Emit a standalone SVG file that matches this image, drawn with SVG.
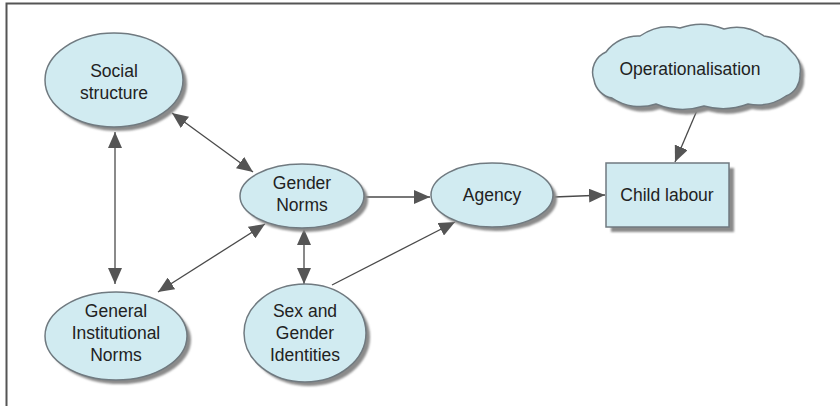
<svg xmlns="http://www.w3.org/2000/svg" width="840" height="406" viewBox="0 0 840 406">
<defs>
<style>
.node{fill:#d1ebf1;stroke:#707a80;stroke-width:1.5}
.shadow{fill:#8a8a8a;filter:url(#soft)}
.lbl{font-family:"Liberation Sans",Arial,sans-serif;font-size:17.5px;fill:#222;text-anchor:middle}
.edge{stroke:#4a4a4a;stroke-width:1.3;fill:none}
.edge2{stroke:#8a8a8a;stroke-width:2;fill:none}
</style>
<filter id="soft" x="-10%" y="-10%" width="120%" height="120%">
<feGaussianBlur stdDeviation="1"/>
</filter>
<marker id="ah" viewBox="0 0 16 14" refX="16" refY="7" markerWidth="16" markerHeight="14" markerUnits="userSpaceOnUse" orient="auto-start-reverse">
<path d="M0,0 L16,7 L0,14 z" fill="#555"/>
</marker>
<path id="cloud" d="M594,80 A22,22 0 0 1 606,52 A40,40 0 0 1 640,36 A50,50 0 0 1 680,28 A60,60 0 0 1 724,29 A50,50 0 0 1 764,36 A40,40 0 0 1 792,52 A24,24 0 0 1 800,74 A22,22 0 0 1 786,96 A50,50 0 0 1 748,104 A70,70 0 0 1 704,106 A70,70 0 0 1 656,104 A50,50 0 0 1 612,98 A22,22 0 0 1 594,80 Z"/>
</defs>
<rect x="0" y="0" width="840" height="406" fill="#fff"/>
<path d="M6.5,406 L6.5,3.5 L840,3.5" fill="none" stroke="#555" stroke-width="2"/>

<g id="connectors">
<line class="edge2" x1="115" y1="132" x2="115" y2="284" marker-start="url(#ah)" marker-end="url(#ah)"/>
<line class="edge" x1="172" y1="113" x2="253" y2="172" marker-start="url(#ah)" marker-end="url(#ah)"/>
<line class="edge" x1="265" y1="224" x2="158" y2="292" marker-start="url(#ah)" marker-end="url(#ah)"/>
<line class="edge" x1="304" y1="229" x2="304" y2="284" marker-start="url(#ah)" marker-end="url(#ah)"/>
<line class="edge" x1="365" y1="197" x2="430" y2="197" marker-end="url(#ah)"/>
<line class="edge" x1="332" y1="285" x2="455" y2="222" marker-end="url(#ah)"/>
<line class="edge" x1="554" y1="197" x2="605" y2="195" marker-end="url(#ah)"/>
<line class="edge" x1="698" y1="108" x2="675" y2="162" marker-end="url(#ah)"/>
</g>

<g id="social-structure">
<ellipse class="shadow" cx="118" cy="84" rx="69" ry="47"/>
<ellipse class="node" cx="114" cy="80" rx="69" ry="47"/>
<text class="lbl" x="114" y="77">Social</text>
<text class="lbl" x="114" y="99">structure</text>
</g>

<g id="gender-norms">
<ellipse class="shadow" cx="306" cy="200" rx="62" ry="32"/>
<ellipse class="node" cx="302" cy="196" rx="62" ry="32"/>
<text class="lbl" x="302" y="189">Gender</text>
<text class="lbl" x="302" y="211">Norms</text>
</g>

<g id="agency">
<ellipse class="shadow" cx="496" cy="199" rx="61" ry="32"/>
<ellipse class="node" cx="492" cy="195" rx="61" ry="32"/>
<text class="lbl" x="492" y="201">Agency</text>
</g>

<g id="child-labour">
<rect class="shadow" x="611" y="168" width="123" height="64"/>
<rect class="node" x="606" y="163" width="123" height="64"/>
<text class="lbl" x="667" y="201">Child labour</text>
</g>

<g id="operationalisation">
<use href="#cloud" class="shadow" transform="translate(4,5)"/>
<use href="#cloud" class="node"/>
<text class="lbl" x="690" y="75">Operationalisation</text>
</g>

<g id="general-institutional-norms">
<ellipse class="shadow" cx="120" cy="340" rx="71" ry="44"/>
<ellipse class="node" cx="116" cy="336" rx="71" ry="44"/>
<text class="lbl" x="116" y="317">General</text>
<text class="lbl" x="116" y="339">Institutional</text>
<text class="lbl" x="116" y="361">Norms</text>
</g>

<g id="sex-gender-identities">
<ellipse class="shadow" cx="309" cy="337" rx="61" ry="49"/>
<ellipse class="node" cx="305" cy="333" rx="61" ry="49"/>
<text class="lbl" x="305" y="317">Sex and</text>
<text class="lbl" x="305" y="339">Gender</text>
<text class="lbl" x="305" y="361">Identities</text>
</g>
</svg>
